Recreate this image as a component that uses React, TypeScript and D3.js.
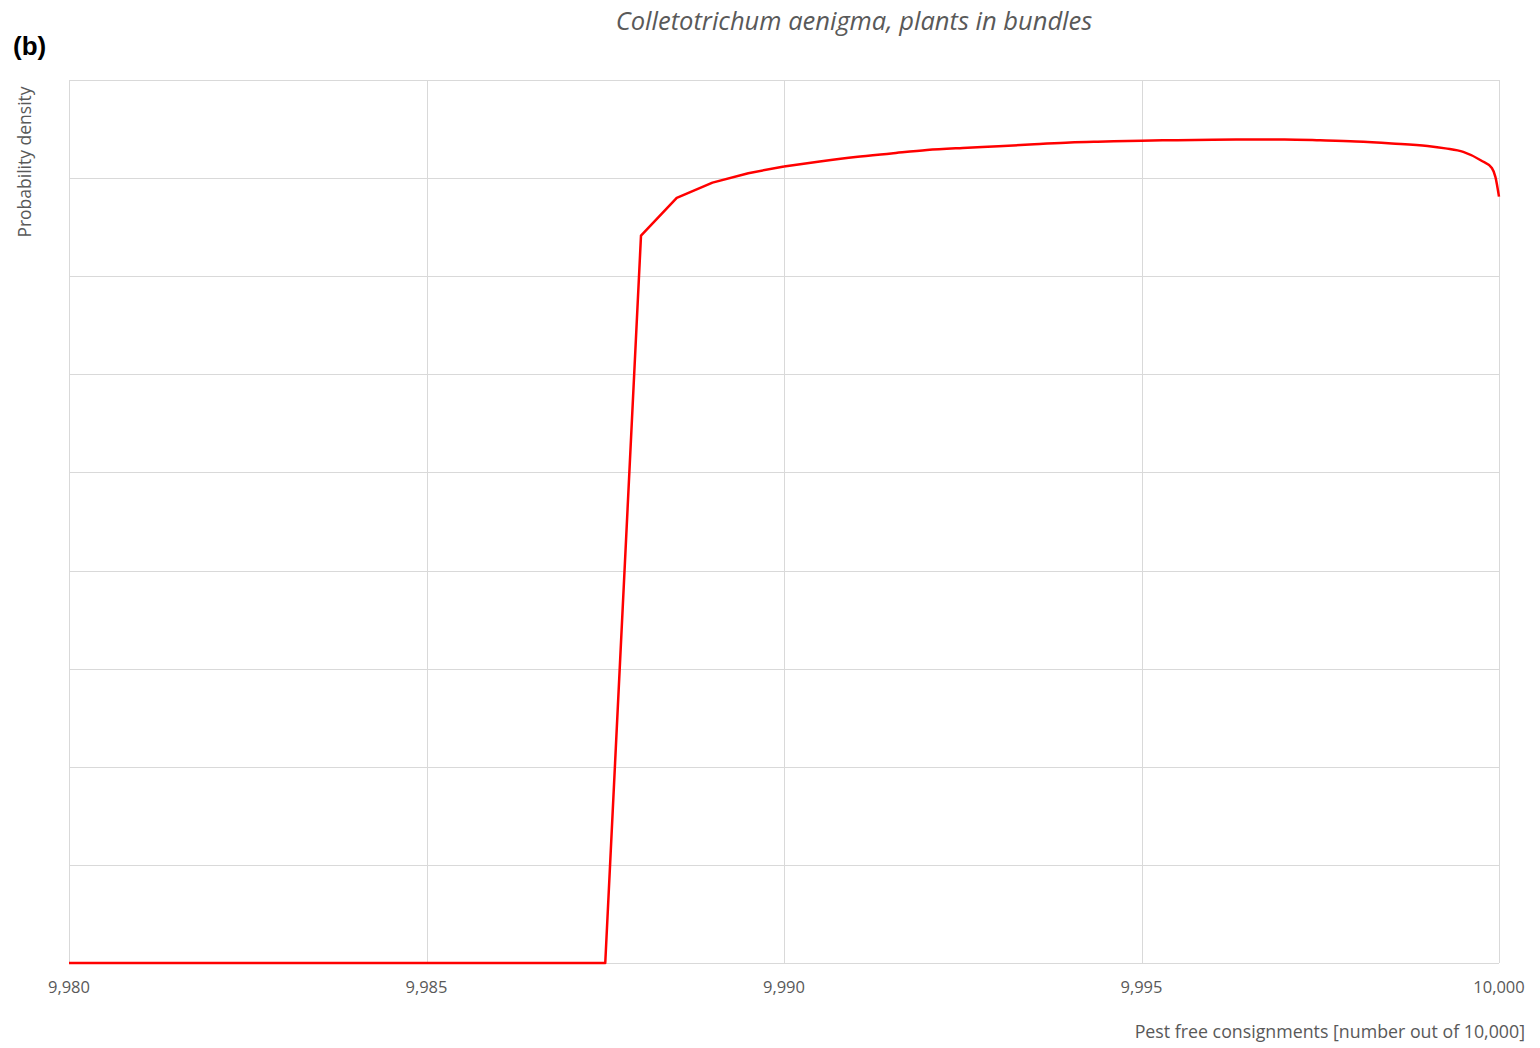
import React from "react";
import * as d3 from "d3";

const xValues: number[] = [
  9980, 9987.5, 9988, 9988.5, 9989, 9989.5, 9990, 9990.5, 9991, 9991.5, 9992, 9992.5,
  9993, 9993.5, 9994, 9994.5, 9995, 9995.5, 9996, 9996.5, 9997, 9997.5, 9998, 9998.5,
  9999, 9999.25, 9999.5, 9999.75, 9999.9, 9999.95, 10000,
];
const densityValues: number[] = [
  0, 0, 7.414, 7.798, 7.954, 8.05, 8.119, 8.17, 8.216, 8.252, 8.287, 8.308,
  8.325, 8.344, 8.364, 8.373, 8.382, 8.387, 8.392, 8.394, 8.393, 8.385, 8.374, 8.354,
  8.328, 8.303, 8.267, 8.18, 8.104, 8.012, 7.811,
];
const xTicks: number[] = [9980, 9985, 9990, 9995, 10000];
const yGridValues: number[] = [0, 1, 2, 3, 4, 5, 6, 7, 8, 9];

const titleText = "Colletotrichum aenigma, plants in bundles";
const panelLabel = "(b)";
const yLabel = "Probability density";
const xLabel = "Pest free consignments [number out of 10,000]";

const W = 1540;
const H = 1048;
const M = { left: 69, right: 1499, top: 80, bottom: 963 };
const FONT = "'Open Sans', 'Liberation Sans', sans-serif";
const GREY = "#595959";

export default function App() {
  const x = d3.scaleLinear().domain([9980, 10000]).range([M.left, M.right]);
  const y = d3.scaleLinear().domain([0, 9]).range([M.bottom, M.top]);
  const data = xValues.map((v, i) => [v, densityValues[i]] as [number, number]);
  const splitIdx = xValues.indexOf(9990);
  const sharpPart = data.slice(0, splitIdx + 1);
  const smoothPart = data.slice(splitIdx);
  const lineLinear = d3
    .line<[number, number]>()
    .x((d) => x(d[0]))
    .y((d) => y(d[1]))
    .curve(d3.curveLinear);
  const lineSmooth = d3
    .line<[number, number]>()
    .x((d) => x(d[0]))
    .y((d) => y(d[1]))
    .curve(d3.curveMonotoneX);
  const fmt = d3.format(",");

  return (
    <svg
      width={W}
      height={H}
      style={{ position: "absolute", left: 0, top: 0, background: "#fff" }}
      fontFamily={FONT}
    >
      <rect x={0} y={0} width={W} height={H} fill="#fff" />
      {yGridValues.map((g) => (
        <line
          key={"h" + g}
          x1={M.left}
          x2={M.right}
          y1={Math.round(y(g)) + 0.5}
          y2={Math.round(y(g)) + 0.5}
          stroke="#d9d9d9"
          strokeWidth={1}
        />
      ))}
      {xTicks.map((t) => (
        <line
          key={"v" + t}
          x1={Math.round(x(t)) + 0.5}
          x2={Math.round(x(t)) + 0.5}
          y1={M.top}
          y2={M.bottom}
          stroke="#d9d9d9"
          strokeWidth={1}
        />
      ))}
      <path d={lineLinear(sharpPart) || ""} fill="none" stroke="#ff0000" strokeWidth={2.5} strokeLinejoin="round" />
      <path d={lineSmooth(smoothPart) || ""} fill="none" stroke="#ff0000" strokeWidth={2.5} strokeLinejoin="round" />
      {xTicks.map((t) => (
        <text
          key={"t" + t}
          x={x(t)}
          y={993}
          textAnchor="middle"
          fontSize={16.5}
          fill={GREY}
        >
          {fmt(t)}
        </text>
      ))}
      <text x={854} y={30} textAnchor="middle" fontSize={25.5} fontStyle="italic" fill={GREY}>
        {titleText}
      </text>
      <text x={13} y={55} fontSize={26} fontWeight="bold" fill="#000" fontFamily="'Liberation Sans', Arial, sans-serif">
        {panelLabel}
      </text>
      <text
        transform={`translate(31,${162}) rotate(-90)`}
        textAnchor="middle"
        fontSize={17.5}
        fill={GREY}
      >
        {yLabel}
      </text>
      <text x={1525} y={1038} textAnchor="end" fontSize={17.8} fill={GREY}>
        {xLabel}
      </text>
    </svg>
  );
}
